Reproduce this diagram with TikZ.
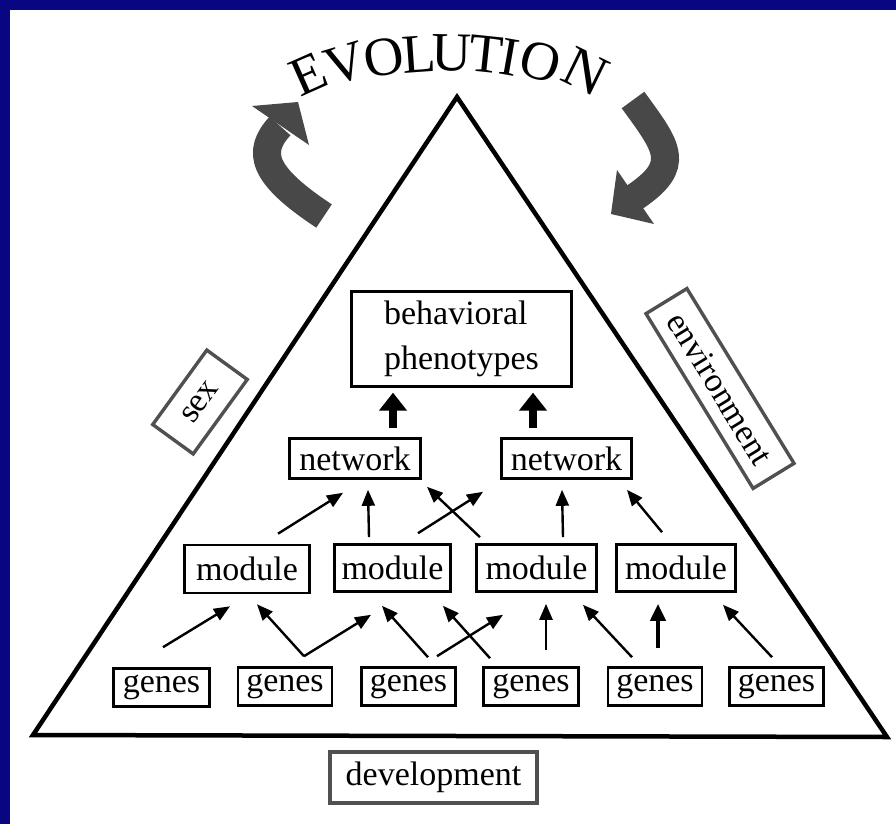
\documentclass[tikz,border=0pt]{standalone}
\usepackage{fontspec}
\setmainfont{Liberation Serif}
\usetikzlibrary{arrows.meta}
\definecolor{navy}{RGB}{8,6,128}
\definecolor{evogray}{RGB}{72,72,72}
\definecolor{boxgray}{RGB}{80,80,80}
\begin{document}
\begin{tikzpicture}[x=1pt,y=-1pt,
  lbl/.style={font=\fontsize{34}{40}\selectfont, inner sep=0pt, draw=black, line width=2.6pt},
  gbox/.style={font=\fontsize{34}{40}\selectfont, inner sep=0pt, draw=boxgray, line width=3.4pt},
  evo/.style={font=\fontsize{55}{60}\selectfont, inner sep=0pt},
  arr/.style={-{Triangle[length=16pt,width=13pt]}, line width=2.4pt},
  arrthick/.style={-{Triangle[length=17pt,width=15pt]}, line width=4pt},
  bigarr/.style={-{Triangle[length=18pt,width=27pt]}, line width=8pt},
  curvy/.style={draw=evogray, line width=28pt, line cap=butt}
]
\useasboundingbox (0,0) rectangle (896,824);
\fill[navy] (0,0) rectangle (896,824);
\fill[white] (10,10) rectangle (896,824);

% triangle
\draw[line width=4.5pt, line join=miter] (457,97) -- (33,735) -- (887,737) -- cycle;

% EVOLUTION
\node[evo, rotate=24]  (eE)  at (309,74) {E};
\node[evo, rotate=17]  (eV)  at (345,64) {V};
\node[evo, rotate=10]  (eO1) at (384,57) {O};
\node[evo, rotate=4]   (eL)  at (419,54) {L};
\node[evo, rotate=-1]  (eU)  at (452,53) {U};
\node[evo, rotate=-6]  (eT)  at (486,54) {T};
\node[evo, rotate=-10] (eI)  at (510,57) {I};
\node[evo, rotate=-16] (eO2) at (541,62) {O};
\node[evo, rotate=-26, font=\fontsize{58}{60}\selectfont] (eN)  at (586,72) {N};

% curved arrows
\draw[curvy] (324,216) .. controls (262,175) and (256,152) .. (280,126);
\fill[evogray] (252,106) -- (298,102) -- (309,145) -- cycle;
\draw[curvy] (633,100) .. controls (668,148) and (682,165) .. (635,197);
\fill[evogray] (617,170) -- (611,214) -- (654,224) -- cycle;

% boxes
\node[lbl, line width=2.3pt, minimum width=220pt, minimum height=95pt, align=left,
      font=\fontsize{34}{45}\selectfont] (beh) at (461.5,339) {behavioral\\phenotypes};
\node[lbl, minimum width=131pt, minimum height=40pt] (n1) at (355,458.5) {network};
\node[lbl, minimum width=130pt, minimum height=40pt] (n2) at (566.5,458.5) {network};
\node[lbl, minimum width=125pt, minimum height=48pt] (m1) at (247,569) {module};
\node[lbl, minimum width=116pt, minimum height=47pt] (m2) at (392.5,568) {module};
\node[lbl, minimum width=120pt, minimum height=47pt] (m3) at (536.5,568) {module};
\node[lbl, minimum width=119pt, minimum height=47pt] (m4) at (676,568) {module};
\node[lbl, minimum width=96pt, minimum height=38pt] (g1) at (161.5,687.5) {genes};
\node[lbl, minimum width=94pt, minimum height=38pt] (g2) at (285,686.5) {genes};
\node[lbl, minimum width=94pt, minimum height=38pt] (g3) at (408.5,686.5) {genes};
\node[lbl, minimum width=95pt, minimum height=38pt] (g4) at (531,686.5) {genes};
\node[lbl, minimum width=94pt, minimum height=38pt] (g5) at (655,686.5) {genes};
\node[lbl, minimum width=94pt, minimum height=38pt] (g6) at (776.5,686.5) {genes};
\node[gbox, minimum width=207pt, minimum height=51pt] (dev) at (433.5,777.5) {development};
\node[gbox, minimum width=92pt, minimum height=50pt, rotate=54] (sex) at (200,402) {sex};
\node[gbox, minimum width=205pt, minimum height=48pt, rotate=-58.5] (env) at (720,388.5) {environment};

% network -> phenotypes
\draw[bigarr] ([xshift=38pt,yshift=9pt]n1.north) -- ([xshift=-68.5pt,yshift=-5pt]beh.south);
\draw[bigarr] ([xshift=-33.5pt,yshift=9pt]n2.north) -- ([xshift=71.5pt,yshift=-5pt]beh.south);

% module -> network
\draw[arr] ([xshift=31pt,yshift=10pt]m1.north) -- ([xshift=-12pt,yshift=-13pt]n1.south);
\draw[arr] ([xshift=-23.5pt,yshift=6pt]m2.north) -- ([xshift=13pt,yshift=-10pt]n1.south);
\draw[arr] ([xshift=-56.5pt,yshift=6pt]m3.north) -- ([xshift=72pt,yshift=-7pt]n1.south);
\draw[arr] ([xshift=25.5pt,yshift=10pt]m2.north) -- ([xshift=-83.5pt,yshift=-12pt]n2.south);
\draw[arr] ([xshift=26.5pt,yshift=6pt]m3.north) -- ([xshift=-4.5pt,yshift=-10pt]n2.south);
\draw[arr] ([xshift=-14pt,yshift=11pt]m4.north) -- ([xshift=60.5pt,yshift=-10pt]n2.south);

% genes -> module
\draw[arr] ([xshift=1.5pt,yshift=20pt]g1.north) -- ([xshift=-17pt,yshift=-12pt]m1.south);
\draw[arr] ([xshift=19pt,yshift=10pt]g2.north) -- ([xshift=10pt,yshift=-10pt]m1.south);
\draw[arr] ([xshift=19pt,yshift=10pt]g2.north) -- ([xshift=-21.5pt,yshift=-22pt]m2.south);
\draw[arr] ([xshift=19.5pt,yshift=9pt]g3.north) -- ([xshift=-10.5pt,yshift=-13pt]m2.south);
\draw[arr] ([xshift=28.5pt,yshift=10pt]g3.north) -- ([xshift=-33.5pt,yshift=-22pt]m3.south);
\draw[arr] ([xshift=-41pt,yshift=8pt]g4.north) -- ([xshift=50.5pt,yshift=-13pt]m2.south);
\draw[arr] ([xshift=15pt,yshift=16pt]g4.north) -- ([xshift=9.5pt,yshift=-11pt]m3.south);
\draw[arr] ([xshift=-23pt,yshift=9pt]g5.north) -- ([xshift=46.5pt,yshift=-12pt]m3.south);
\draw[arrthick] ([xshift=3pt,yshift=18pt]g5.north) -- ([xshift=-18pt,yshift=-11pt]m4.south);
\draw[arr] ([xshift=-4.5pt,yshift=9pt]g6.north) -- ([xshift=47pt,yshift=-12pt]m4.south);
\end{tikzpicture}
\end{document}
